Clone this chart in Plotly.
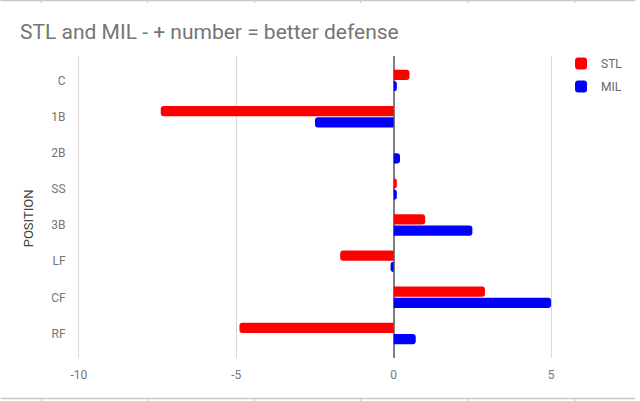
import plotly.graph_objects as go

positions = ["C", "1B", "2B", "SS", "3B", "LF", "CF", "RF"]
stl = [0.5, -7.4, 0.0, 0.1, 1.0, -1.7, 2.9, -4.9]
mil = [0.1, -2.5, 0.2, 0.1, 2.5, -0.1, 5.0, 0.7]
x_ticks = [-10, -5, 0, 5]

W, H = 640, 401
UNIT = 31.73
PADX = 0.06
L, R, T, B = 79 - PADX * UNIT, 555 + PADX * UNIT, 56, 358

def px(x):
    return (x - L) / (R - L)

def py(y):
    return (B - y) / (B - T)

fig = go.Figure()
fig.add_trace(go.Bar(y=positions, x=stl, orientation="h", name="STL",
                     marker=dict(color="#ff0000", line=dict(width=0)),
                     legendgroup="a"))
fig.add_trace(go.Bar(y=positions, x=mil, orientation="h", name="MIL",
                     marker=dict(color="#0000ff", line=dict(width=0)),
                     legendgroup="b"))

shapes = []
# spreadsheet cell borders (background)
for yy in (0.5, 398.5):
    shapes.append(dict(type="line", xref="paper", yref="paper",
                       x0=px(0), x1=px(W), y0=py(yy), y1=py(yy),
                       line=dict(color="#c8c8c8", width=1.5), layer="below"))
for xx in (41, 148, 256, 363, 471, 579):
    shapes.append(dict(type="line", xref="paper", yref="paper",
                       x0=px(xx), x1=px(xx), y0=py(0), y1=py(3),
                       line=dict(color="#c8c8c8", width=1), layer="below"))
    shapes.append(dict(type="line", xref="paper", yref="paper",
                       x0=px(xx), x1=px(xx), y0=py(398), y1=py(401),
                       line=dict(color="#c8c8c8", width=1), layer="below"))

fig.update_layout(
    width=W, height=H,
    margin=dict(l=L, r=W - R, t=T, b=H - B, pad=0),
    paper_bgcolor="white", plot_bgcolor="white",
    font=dict(family="Roboto", size=12, color="#757575"),
    title=dict(text="STL and MIL - + number = better defense",
               x=20 / W, xanchor="left", xref="container",
               y=1 - 32 / H, yanchor="middle", yref="container",
               font=dict(family="Roboto", size=21, color="#757575")),
    barmode="group", bargap=0.38, bargroupgap=0.08, barcornerradius=3,
    showlegend=True,
    legend=dict(x=px(565), xanchor="left", y=1.023, yanchor="top",
                tracegroupgap=4, traceorder="grouped",
                font=dict(family="Roboto", size=12, color="#666666"),
                bgcolor="rgba(0,0,0,0)"),
    xaxis=dict(range=[-10 - PADX, 5 + PADX], tickvals=x_ticks,
               ticktext=[str(v) for v in x_ticks],
               showgrid=True, gridcolor="#d9d9d9", gridwidth=1,
               zeroline=True, zerolinecolor="#808080", zerolinewidth=1.5,
               showline=False, ticks="outside", ticklen=6,
               tickcolor="rgba(0,0,0,0)",
               tickfont=dict(family="Roboto", size=12, color="#757575")),
    yaxis=dict(categoryorder="array", categoryarray=positions,
               range=[7.68, -0.68], showgrid=False, zeroline=False,
               ticks="outside", ticklen=8, tickcolor="rgba(0,0,0,0)",
               tickfont=dict(family="Roboto", size=12, color="#757575")),
    shapes=shapes,
    annotations=[dict(text="POSITION", xref="paper", yref="paper",
                      x=px(28), y=py(218), textangle=-90, showarrow=False,
                      xanchor="center", yanchor="middle",
                      font=dict(family="Roboto", size=13, color="#444444"))],
)

fig.write_html("out.html", config={"displayModeBar": False},
               post_script="document.body.style.margin='0';"
                           "document.body.style.overflow='hidden';")
